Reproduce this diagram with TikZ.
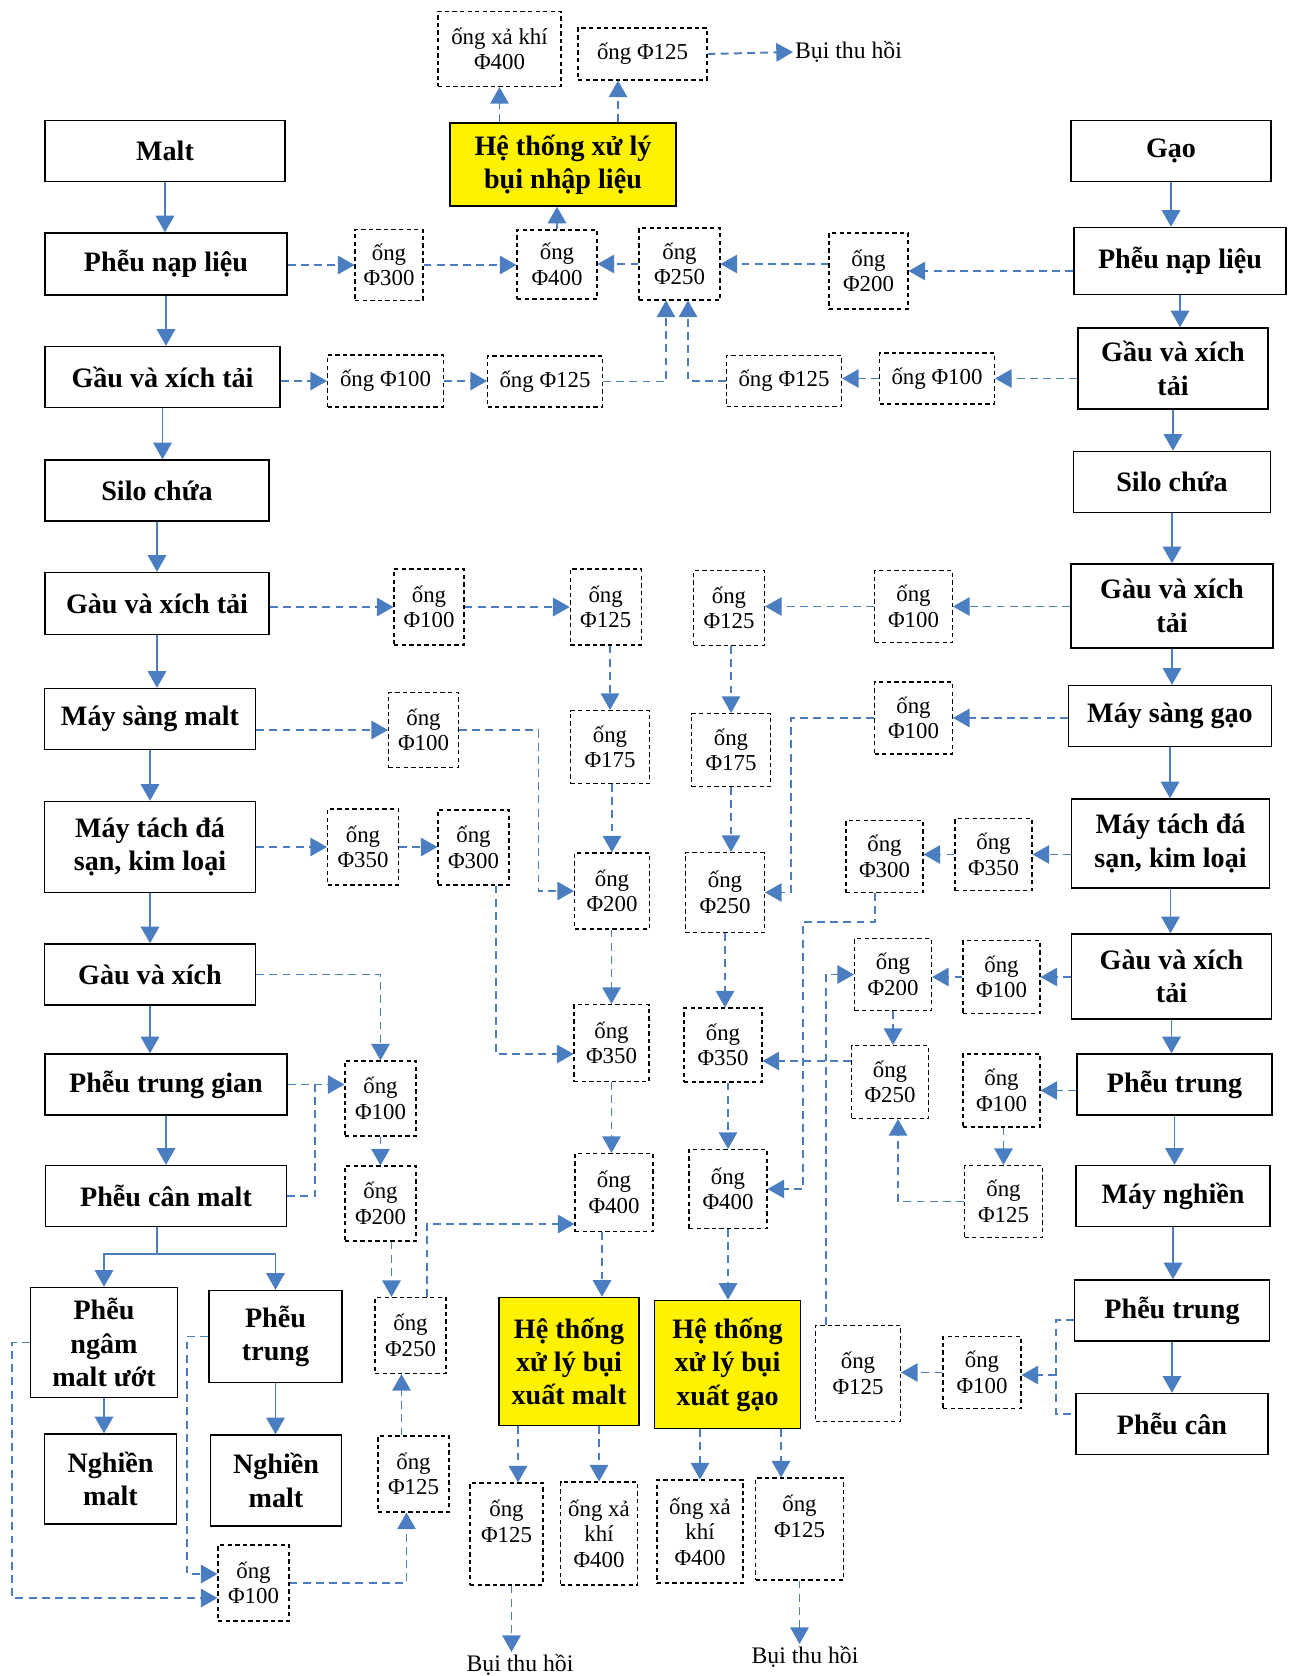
\documentclass[tikz,border=0pt]{standalone}
\usepackage{fontspec}
\setmainfont{Liberation Serif}
\usetikzlibrary{arrows.meta}
\definecolor{lineblue}{HTML}{4A7EC1}

\begin{document}
\begin{tikzpicture}[
  x=0.02cm, y=-0.02cm,
  sz/.style 2 args={minimum width=#1*0.02cm, minimum height=#2*0.02cm},
  stage/.style={draw, line width=0.8pt, align=center, inner sep=1pt,
    font=\bfseries\fontsize{16}{19}\selectfont},
  dust/.style={stage, fill=yellow},
  pipe/.style={draw, line width=0.6pt, dash pattern=on 2.5pt off 1.8pt,
    align=center, inner sep=1pt, font=\fontsize{13}{14.5}\selectfont},
  note/.style={inner sep=1pt, font=\fontsize{13.5}{15}\selectfont},
  flow/.style={draw=lineblue, line width=1.1pt, -{Triangle[width=10.5pt,length=9.5pt]}},
  pipeflow/.style={flow, dash pattern=on 4.5pt off 3pt},
  pipeline/.style={draw=lineblue, line width=1.1pt, dash pattern=on 4.5pt off 3pt}
]
\useasboundingbox (0,0) rectangle (1296,1676);

% malt line
\node[stage, sz={240}{61}] (malt) at (165,151) {Malt};
\node[stage, sz={242}{62}] (lfeed) at (166,264) {Phễu nạp liệu};
\node[stage, sz={235}{61}] (lbucket1) at (162.5,377) {Gầu và xích tải};
\node[stage, sz={224}{61}] (lsilo) at (157,490.5) {Silo chứa};
\node[stage, sz={224}{62}] (lbucket2) at (157,603.5) {Gàu và xích tải};
\node[stage, sz={211}{61}] (lsieve) at (150,719) {Máy sàng malt};
\node[stage, sz={211}{91}] (lstone) at (150,847) {Máy tách đá\\sạn, kim loại};
\node[stage, sz={211}{61}] (lbucket3) at (150,974.5) {Gàu và xích};
\node[stage, sz={242}{61}] (lmid) at (166,1084.5) {Phễu trung gian};
\node[stage, sz={241}{61}] (lweigh) at (166,1196) {Phễu cân malt};
\node[stage, sz={147}{110}] (lsoak) at (104,1342.5) {Phễu\\ngâm\\malt ướt};
\node[stage, sz={133}{92}] (lhop) at (275.5,1336.5) {Phễu\\trung};
\node[stage, sz={132}{90}] (lmill1) at (110.5,1479) {Nghiền\\malt};
\node[stage, sz={131}{91}] (lmill2) at (276,1480.5) {Nghiền\\malt};

% rice line
\node[stage, sz={200}{61}] (rice) at (1171,151) {Gạo};
\node[stage, sz={212}{67}] (rfeed) at (1180,261) {Phễu nạp liệu};
\node[stage, sz={190}{81}] (rbucket1) at (1173,368.5) {Gầu và xích\\tải};
\node[stage, sz={197}{61}] (rsilo) at (1172,482) {Silo chứa};
\node[stage, sz={202}{84}] (rbucket2) at (1172,606) {Gàu và xích\\tải};
\node[stage, sz={203}{61}] (rsieve) at (1170,716) {Máy sàng gạo};
\node[stage, sz={198}{89}] (rstone) at (1170.5,843.5) {Máy tách đá\\sạn, kim loại};
\node[stage, sz={200}{85}] (rbucket3) at (1171.5,976.5) {Gàu và xích\\tải};
\node[stage, sz={195}{61}] (rmid1) at (1174.5,1084.5) {Phễu trung};
\node[stage, sz={194}{61}] (rmill) at (1173,1196) {Máy nghiền};
\node[stage, sz={195}{61}] (rmid2) at (1172,1310.5) {Phễu trung};
\node[stage, sz={192}{61}] (rweigh) at (1172,1424) {Phễu cân};

% dust systems
\node[dust, sz={226}{83}] (dtop) at (563,164.5) {Hệ thống xử lý\\bụi nhập liệu};
\node[dust, sz={140}{128}] (dmalt) at (569,1361.5) {Hệ thống\\xử lý bụi\\xuất malt};
\node[dust, sz={146}{128}] (drice) at (727.5,1364.5) {Hệ thống\\xử lý bụi\\xuất gạo};

% pipes
\node[pipe, sz={123}{75}] (pexh1) at (499.5,49) {ống xả khí\\Φ400};
\node[pipe, sz={129}{52}] (ptop125) at (642.5,54) {ống Φ125};
\node[note, anchor=west] (dust1) at (793,52) {Bụi thu hồi};
\node[pipe, sz={68}{71}] (p300a) at (389,265) {ống\\Φ300};
\node[pipe, sz={80}{69}] (p400a) at (557,264.5) {ống\\Φ400};
\node[pipe, sz={81}{72}] (p250a) at (679.5,264) {ống\\Φ250};
\node[pipe, sz={79}{76}] (p200a) at (868.5,271) {ống\\Φ200};
\node[pipe, sz={116}{52}] (p100a) at (385.5,381) {ống Φ100};
\node[pipe, sz={115}{51}] (p125a) at (545,381.5) {ống Φ125};
\node[pipe, sz={115}{51}] (p125b) at (784,381) {ống Φ125};
\node[pipe, sz={115}{51}] (p100b) at (937,378.5) {ống Φ100};
\node[pipe, sz={70}{76}] (p100c) at (429,607) {ống\\Φ100};
\node[pipe, sz={71}{76}] (p125c) at (605.7,607) {ống\\Φ125};
\node[pipe, sz={71}{75}] (p125d) at (729,608) {ống\\Φ125};
\node[pipe, sz={78}{72}] (p100d) at (913.5,606.5) {ống\\Φ100};
\node[pipe, sz={70}{75}] (p100e) at (423.5,730) {ống\\Φ100};
\node[pipe, sz={79}{73}] (p175a) at (610,747) {ống\\Φ175};
\node[pipe, sz={79}{73}] (p175b) at (731,750) {ống\\Φ175};
\node[pipe, sz={78}{72}] (p100f) at (913.5,718) {ống\\Φ100};
\node[pipe, sz={71}{76}] (p350a) at (363,847) {ống\\Φ350};
\node[pipe, sz={71}{75}] (p300b) at (473.5,847.5) {ống\\Φ300};
\node[pipe, sz={75}{76}] (p200b) at (612,891) {ống\\Φ200};
\node[pipe, sz={79}{80}] (p250b) at (725,892.5) {ống\\Φ250};
\node[pipe, sz={77}{72}] (p300c) at (884.5,856.5) {ống\\Φ300};
\node[pipe, sz={77}{72}] (p350b) at (993.5,854.5) {ống\\Φ350};
\node[pipe, sz={77}{72}] (p200c) at (893,974.5) {ống\\Φ200};
\node[pipe, sz={77}{73}] (p100g) at (1001.5,977) {ống\\Φ100};
\node[pipe, sz={75}{77}] (p350c) at (611.5,1043) {ống\\Φ350};
\node[pipe, sz={78}{74}] (p350d) at (723,1045) {ống\\Φ350};
\node[pipe, sz={77}{73}] (p250c) at (890,1082) {ống\\Φ250};
\node[pipe, sz={77}{73}] (p100h) at (1001.5,1090.5) {ống\\Φ100};
\node[pipe, sz={71}{75}] (p100i) at (380.5,1098.5) {ống\\Φ100};
\node[pipe, sz={71}{75}] (p200d) at (380.5,1203.5) {ống\\Φ200};
\node[pipe, sz={78}{78}] (p400b) at (614,1192.5) {ống\\Φ400};
\node[pipe, sz={78}{79}] (p400c) at (728,1189) {ống\\Φ400};
\node[pipe, sz={78}{72}] (p125e) at (1003.5,1201.5) {ống\\Φ125};
\node[pipe, sz={71}{76}] (p250d) at (410.5,1335.5) {ống\\Φ250};
\node[pipe, sz={85}{96}] (p125f) at (858,1373.5) {ống\\Φ125};
\node[pipe, sz={78}{72}] (p100j) at (982,1372.5) {ống\\Φ100};
\node[pipe, sz={71}{76}] (p125g) at (413.5,1474) {ống\\Φ125};
\node[pipe, sz={71}{76}] (p100k) at (253.5,1583) {ống\\Φ100};
\node[pipe, sz={73}{102}] (p125h) at (506.5,1534) {ống\\Φ125\\\mbox{}};
\node[pipe, sz={77}{103}] (pexh2) at (599,1533.5) {ống xả\\khí\\Φ400};
\node[pipe, sz={86}{103}] (pexh3) at (700,1531.5) {ống xả\\khí\\Φ400};
\node[pipe, sz={88}{102}] (p125i) at (799.5,1529) {ống\\Φ125\\\mbox{}};
\node[note, anchor=north] (dust2) at (520,1652) {Bụi thu hồi};
\node[note, anchor=north] (dust3) at (805,1644) {Bụi thu hồi};

% bends
\coordinate (split) at (157,1254);
\coordinate (j1) at (538.5,0);
\coordinate (j2) at (791,0);
\coordinate (j3) at (803,922);
\coordinate (j4) at (315,0);
\coordinate (j5) at (12,1598);
\coordinate (j6) at (187,1574);
\coordinate (j7) at (1056,1375);

% solid flow
\foreach \a/\b in {malt/lfeed, lfeed/lbucket1, lbucket1/lsilo, lsilo/lbucket2,
    lbucket2/lsieve, lsieve/lstone, lstone/lbucket3, lbucket3/lmid, lmid/lweigh,
    lsoak/lmill1, lhop/lmill2, rice/rfeed, rfeed/rbucket1, rbucket1/rsilo,
    rsilo/rbucket2, rbucket2/rsieve, rsieve/rstone, rstone/rbucket3,
    rbucket3/rmid1, rmid1/rmill, rmill/rmid2, rmid2/rweigh}
  \draw[flow] (\a.south) -- (\a.south |- \b.north);
\draw[draw=lineblue, line width=1.1pt] (lweigh.south -| split) -- (split);
\draw[flow] (split) -| (lsoak.north);
\draw[flow] (split) -| (lhop.north);

% top dust system
\draw[pipeflow] (dtop.north -| pexh1) -- (pexh1.south);
\draw[pipeflow] ([xshift=-0.49cm]dtop.north -| ptop125) -- ([xshift=-0.49cm]ptop125.south);
\draw[pipeflow] (ptop125.east) -- (dust1.west);
\draw[pipeflow] (p400a.north) -- (p400a.north |- dtop.south);
\draw[pipeflow] (lfeed.east |- p300a) -- (p300a.west);
\draw[pipeflow] (p300a.east) -- (p300a.east -| p400a.west);
\draw[pipeflow] (p250a.west) -- (p250a.west -| p400a.east);
\draw[pipeflow] (p200a.west |- p250a) -- (p250a.east);
\draw[pipeflow] (rfeed.west |- p200a) -- (p200a.east);
\draw[pipeflow] (lbucket1.east |- p100a) -- (p100a.west);
\draw[pipeflow] (p100a.east) -- (p100a.east -| p125a.west);
\draw[pipeflow] (p125a.east) -| ([xshift=-0.27cm]p250a.south);
\draw[pipeflow] (rbucket1.west |- p100b) -- (p100b.east);
\draw[pipeflow] (p100b.west) -- (p100b.west -| p125b.east);
\draw[pipeflow] (p125b.west) -| ([xshift=0.17cm]p250a.south);

% malt and rice pipes
\draw[pipeflow] (lbucket2.east |- p100c) -- (p100c.west);
\draw[pipeflow] (p100c.east) -- (p100c.east -| p125c.west);
\draw[pipeflow] (p125c.south -| p175a) -- (p175a.north);
\draw[pipeflow] (rbucket2.west |- p100d) -- (p100d.east);
\draw[pipeflow] (p100d.west) -- (p100d.west -| p125d.east);
\draw[pipeflow] (p125d.south -| p175b) -- (p175b.north);
\draw[pipeflow] (lsieve.east |- p100e) -- (p100e.west);
\draw[pipeflow] (p100e.east) -| (j1 |- p200b.west) -- (p200b.west);
\draw[pipeflow] (rsieve.west |- p100f) -- (p100f.east);
\draw[pipeflow] (p100f.west) -| (j2 |- p250b.east) -- (p250b.east);
\draw[pipeflow] (p175a.south -| p200b) -- (p200b.north);
\draw[pipeflow] (p175b.south) -- (p175b.south |- p250b.north);
\draw[pipeflow] (lstone.east |- p350a) -- (p350a.west);
\draw[pipeflow] (p350a.east) -- (p350a.east -| p300b.west);
\draw[pipeflow] ([xshift=0.45cm]p300b.south) |- ([yshift=-0.22cm]p350c.west);
\draw[pipeflow] (rstone.west |- p350b) -- (p350b.east);
\draw[pipeflow] (p350b.west) -- (p350b.west -| p300c.east);
\draw[pipeflow] ([xshift=-0.19cm]p300c.south) |- (j3) |- (p400c.east);
\draw[pipeflow] (p200b.south -| p350c) -- (p350c.north);
\draw[pipeflow] (p250b.south) -- (p250b.south |- p350d.north);
\draw[pipeflow] (lbucket3.east) -| (p100i.north);
\draw[pipeflow] (rbucket3.west |- p100g) -- (p100g.east);
\draw[pipeflow] (p100g.west) -- (p100g.west -| p200c.east);
\draw[pipeflow] (p200c.south) -- (p200c.south |- p250c.north);
\draw[pipeflow] ([yshift=0.42cm]p250c.west) -- ([yshift=0.42cm]p250c.west -| p350d.east);
\draw[pipeflow] (lmid.east) -- (lmid.east -| p100i.west);
\draw[pipeline] (lweigh.east) -| (j4 |- lmid.east);
\draw[pipeflow] (p100i.south) -- (p100i.south |- p200d.north);
\draw[pipeflow] ([xshift=0.22cm]p200d.south) -- ([xshift=0.22cm]p200d.south |- p250d.north);
\draw[pipeflow] ([xshift=0.33cm]p250d.north) |- ([yshift=-0.63cm]p400b.west);
\draw[pipeflow] (rmid1.west |- p100h) -- (p100h.east);
\draw[pipeflow] (p100h.south -| p125e) -- (p125e.north);
\draw[pipeflow] (p125e.west) -| ([xshift=0.16cm]p250c.south);
\draw[pipeflow] (p350c.south) -- (p350c.south |- p400b.north);
\draw[pipeflow] (p350d.south -| p400c) -- (p400c.north);
\draw[pipeflow] ([xshift=-0.24cm]p400b.south) -- ([xshift=-0.24cm]p400b.south |- dmalt.north);
\draw[pipeflow] (p400c.south) -- (p400c.south |- drice.north);

% bottom
\draw[pipeflow] ([xshift=0.23cm]dmalt.south -| p125h) -- ([xshift=0.23cm]p125h.north);
\draw[pipeflow] (dmalt.south -| pexh2) -- (pexh2.north);
\draw[pipeflow] (drice.south -| pexh3) -- (pexh3.north);
\draw[pipeflow] ([xshift=-0.37cm]drice.south -| p125i) -- ([xshift=-0.37cm]p125i.north);
\draw[pipeflow] ([xshift=0.1cm]p125h.south) -- ([xshift=0.1cm]p125h.south |- dust2.north);
\draw[pipeflow] (p125i.south) -- (p125i.south |- dust3.north);
\draw[pipeflow] ([xshift=-0.24cm]p125g.north) -- ([xshift=-0.24cm]p125g.north |- p250d.south);
\draw[pipeflow] (p100k.east) -| ([xshift=-0.14cm]p125g.south);
\draw[pipeflow] (lsoak.west) -| (j5) -- (j5 -| p100k.west);
\draw[pipeflow] (lhop.west) -| (j6) -- (j6 -| p100k.west);
\draw[pipeline] ([yshift=-0.19cm]rmid2.west) -| (j7) |- ([yshift=0.2cm]rweigh.west);
\draw[pipeflow] (j7) -- (j7 -| p100j.east);
\draw[pipeflow] (p100j.west) -- (p100j.west -| p125f.east);
\draw[pipeflow] ([xshift=-0.64cm]p125f.north) |- (p200c.west);
\end{tikzpicture}
\end{document}
